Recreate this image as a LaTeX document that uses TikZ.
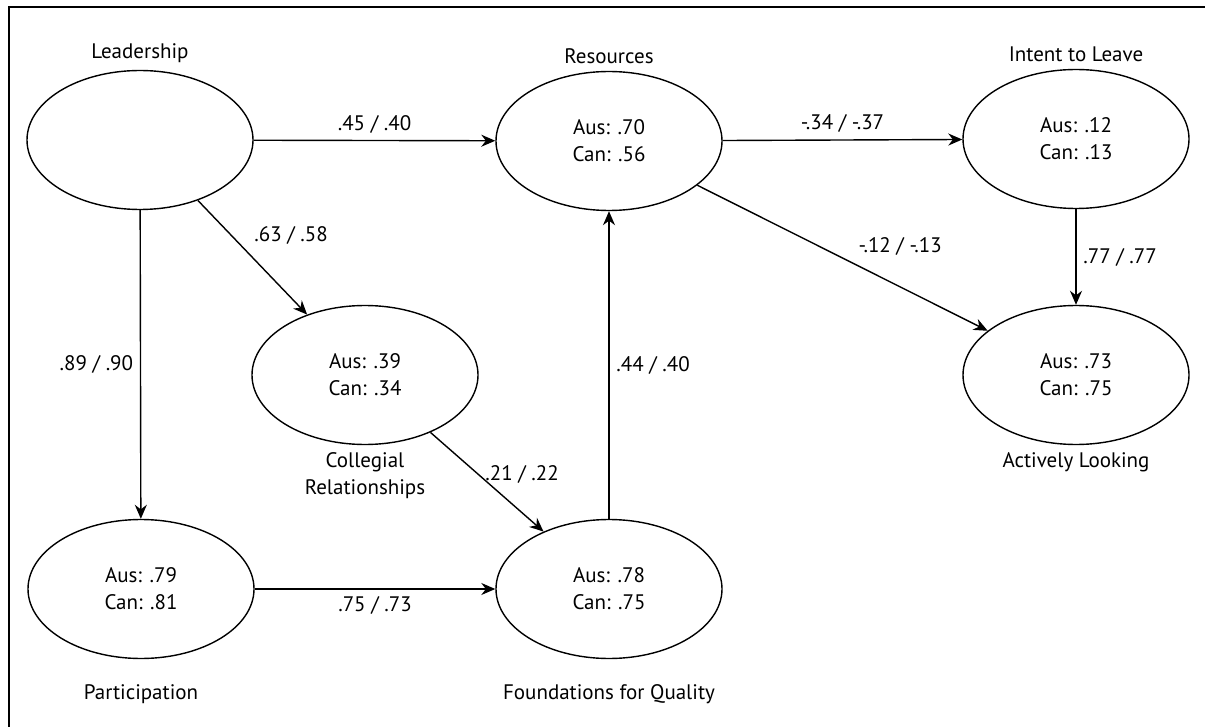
\documentclass[tikz,border=0pt]{standalone}
\usepackage{fontspec}
\setmainfont{PT Sans}
\usetikzlibrary{shapes.geometric,arrows.meta}
\begin{document}
\begin{tikzpicture}[
       x=0.5pt,
       y=-0.5pt,
       line width=0.7pt,
       font=\fontsize{10.5}{13.5}\selectfont,
       factor/.style={
         ellipse,
         draw,
         inner sep=0pt,
         minimum width=113pt,
         minimum height=69.5pt,
         align=center
       },
       effect/.style={
         -{Stealth[length=7pt,width=6pt]}
       }
     ]

       \clip (0,0) rectangle (1205,727);
       \draw (9,7) rectangle (1220,740);

       \node (lead) at (140,140) [factor,label=above:Leadership]{};
       \node (res) at (609,141) [factor,label=above:Resources]{Aus: .70\\Can: .56};
       \node (int) at (1076,139) [factor,label=above:Intent to Leave]{Aus: .12\\Can: .13};
       \node (col) at (365,375) [factor,label={[align=center]below:Collegial\\Relationships}]{Aus: .39\\Can: .34};
       \node (act) at (1076,375) [factor,label=below:Actively Looking]{Aus: .73\\Can: .75};
       \node (part) at (141,589) [factor,label={[label distance=9pt]below:Participation}]{Aus: .79\\Can: .81};
       \node (fqual) at (609,589) [factor,label={[label distance=9pt]below:Foundations for Quality}]{Aus: .78\\Can: .75};

       \draw[effect] (lead) -- node[above]{.45 / .40} (res);
       \draw[effect] (res) -- node[above]{-.34 / -.37} (int);
       \draw[effect] (res) -- node[pos=0.53,above right]{-.12 / -.13} (act);
       \draw[effect] (int) -- node[right]{.77 / .77} (act);
       \draw[effect] (lead) -- node[pos=0.45,above right]{.63 / .58} (col);
       \draw[effect] (lead) -- node[left]{.89 / .90} (part);
       \draw[effect] (col) -- node[pos=0.42,right]{.21 / .22} (fqual);
       \draw[effect] (fqual) -- node[right]{.44 / .40} (res);
       \draw[effect] (part) -- node[below]{.75 / .73} (fqual);

\end{tikzpicture}
\end{document}
